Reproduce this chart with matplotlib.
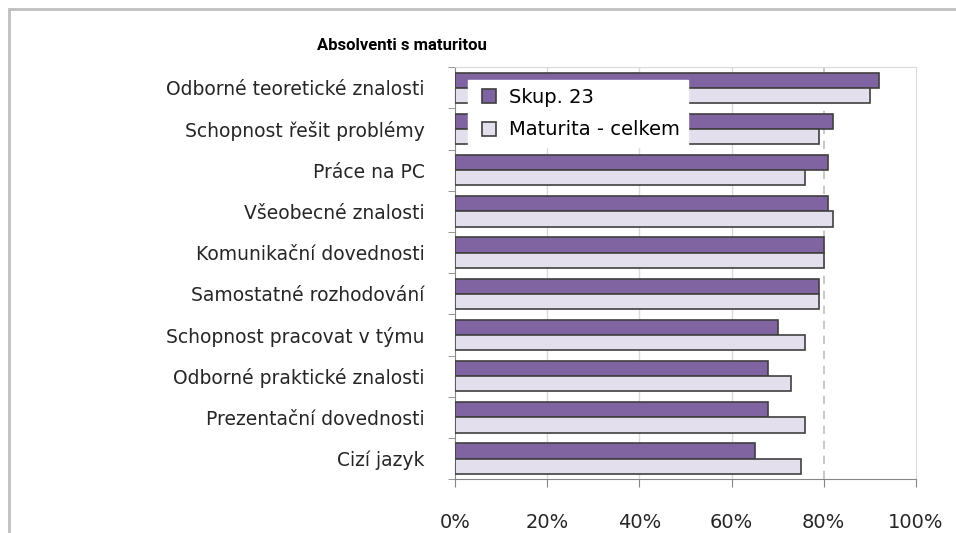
import numpy as np
import matplotlib.pyplot as plt
from matplotlib.lines import Line2D

categories = ["Odborné teoretické znalosti", "Schopnost řešit problémy", "Práce na PC",
              "Všeobecné znalosti", "Komunikační dovednosti", "Samostatné rozhodování",
              "Schopnost pracovat v týmu", "Odborné praktické znalosti",
              "Prezentační dovednosti", "Cizí jazyk"]
skup23 = [92, 82, 81, 81, 80, 79, 70, 68, 68, 65]
celkem = [90, 79, 76, 82, 80, 79, 76, 73, 76, 75]

plt.rcParams['font.family'] = ['DejaVu Sans']

fig = plt.figure(figsize=(9.56, 5.33), dpi=100)
ax = fig.add_axes([0.476, 0.101, 0.482, 0.773])

y = np.arange(len(categories))
h = 0.37
ax.barh(y - h / 2, skup23, height=h, color='#8064A2', edgecolor='#404040', linewidth=1.2, zorder=3)
ax.barh(y + h / 2, celkem, height=h, color='#E4DFEC', edgecolor='#404040', linewidth=1.2, zorder=3)

ax.set_xlim(0, 100)
ax.set_ylim(len(categories) - 0.5, -0.5)

for g in [20, 40, 60]:
    ax.axvline(g, color='#d9d9d9', lw=1, zorder=1)
ax.axvline(80, color='#bfbfbf', lw=1.2, ls=(0, (5, 4)), zorder=1)

ax.set_xticks([0, 20, 40, 60, 80, 100])
ax.set_xticklabels(['0%', '20%', '40%', '60%', '80%', '100%'], fontsize=14, color='#262626')
ax.set_yticks(y)
ax.set_yticklabels(categories, fontsize=13.5, color='#262626')
ax.set_yticks(np.arange(len(categories) + 1) - 0.5, minor=True)
ax.tick_params(axis='y', which='major', length=0, pad=22)
ax.tick_params(axis='y', which='minor', length=5, color='#868686', direction='out')
ax.tick_params(axis='x', length=6, color='#868686', direction='out', pad=18)

for s in ['left', 'bottom']:
    ax.spines[s].set_color('#868686')
for s in ['top', 'right']:
    ax.spines[s].set_color('#d9d9d9')

fig.text(0.42, 0.915, 'Absolventi s maturitou', fontsize=12, fontweight='bold',
         ha='center', va='center', color='#000000', family='Roboto')

handles = [Line2D([], [], ls='none', marker='s', markersize=10, markerfacecolor='#8064A2',
                  markeredgecolor='#404040', markeredgewidth=1.2, label='Skup. 23'),
           Line2D([], [], ls='none', marker='s', markersize=10, markerfacecolor='#E4DFEC',
                  markeredgecolor='#404040', markeredgewidth=1.2, label='Maturita - celkem')]
leg = ax.legend(handles=handles, loc='upper left', bbox_to_anchor=(0.028, 0.968),
                fontsize=14, frameon=True, fancybox=False, handlelength=1.4,
                handletextpad=0.35, borderpad=0.38, labelspacing=0.7, borderaxespad=0)
leg.get_frame().set_edgecolor('white')
leg.get_frame().set_alpha(1)
leg.set_zorder(5)

border = plt.Rectangle((0.0095, -0.05), 1.1, 1.033, transform=fig.transFigure,
                       fill=False, edgecolor='#bfbfbf', lw=2)
fig.add_artist(border)

fig.savefig('out.png', dpi=100)
